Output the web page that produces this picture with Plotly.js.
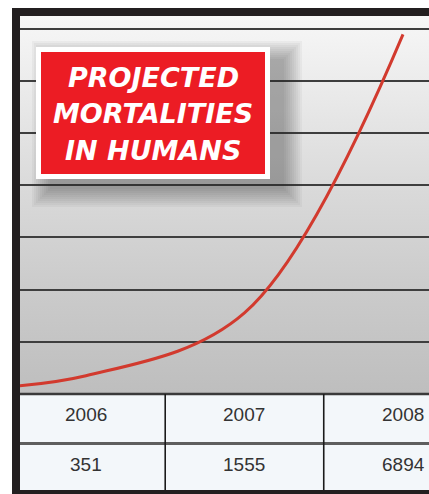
<!DOCTYPE html>
<html>
<head>
<meta charset="utf-8">
<script src="https://cdn.plot.ly/plotly-3.0.1.min.js"></script>
<style>
  html, body { margin: 0; padding: 0; background: #ffffff; }
  #chart { width: 429px; height: 494px; }
</style>
</head>
<body>
<div id="chart"></div>
<script>
// ---- data ----
const years = [2005, 2006, 2007, 2008];          // 2005 value estimated from the curve entering at the left edge
const deaths = [60, 351, 1555, 6894];
const tableYearPos = [2006, 2007, 2008];
const tableYears = ['2006', '2007', '2008'];
const tableValues = ['351', '1555', '6894'];
const titleLines = ['PROJECTED', 'MORTALITIES', 'IN HUMANS'];

// ---- layout geometry (pixels) ----
const W = 429, H = 494;
const mL = 20, mR = 0, mT = 16, mB = 100;
const plotW = W - mL - mR, plotH = H - mT - mB;
const px = x => (x - mL) / plotW;            // pixel x -> paper x
const py = y => (mT + plotH - y) / plotH;    // pixel y -> paper y
const xRange = [2005.584, 2008.164];
const xp = v => (v - xRange[0]) / (xRange[1] - xRange[0]); // data x -> paper x

const gradSvg =
  '<svg xmlns="http://www.w3.org/2000/svg" width="100" height="100" viewBox="0 0 100 100" preserveAspectRatio="none">' +
  '<defs><linearGradient id="g" x1="0" y1="0" x2="0" y2="1">' +
  '<stop offset="0" stop-color="#f7f7f7"/>' +
  '<stop offset="0.17" stop-color="#ececec"/>' +
  '<stop offset="0.45" stop-color="#dadada"/>' +
  '<stop offset="0.72" stop-color="#cbcbcb"/>' +
  '<stop offset="1" stop-color="#bebebe"/>' +
  '</linearGradient></defs><rect width="100" height="100" fill="url(#g)"/></svg>';

const shapes = [];

// table background
shapes.push({type: 'rect', xref: 'paper', yref: 'paper', x0: 0, x1: 1, y0: py(490), y1: py(394),
  fillcolor: '#f3f7fa', line: {width: 0}, layer: 'below'});

// box shadow (stacked translucent rects)
for (let i = 0; i < 10; i++) {
  const g = i * 2;
  shapes.push({type: 'rect', xref: 'paper', yref: 'paper',
    x0: px(36 + 14 - g), x1: px(270 + 14 + g), y0: py(179 + 10 + g), y1: py(47 + 12 - g),
    fillcolor: 'rgba(40,40,40,0.045)', line: {width: 0}});
}
// white frame and red box
shapes.push({type: 'rect', xref: 'paper', yref: 'paper', x0: px(36), x1: px(270), y0: py(179), y1: py(47),
  fillcolor: '#ffffff', line: {width: 0}});
shapes.push({type: 'rect', xref: 'paper', yref: 'paper', x0: px(41), x1: px(265), y0: py(174), y1: py(52),
  fillcolor: '#ec1c24', line: {width: 0}});

// table lines
shapes.push({type: 'line', xref: 'paper', yref: 'paper', x0: 0, x1: 1, y0: py(394), y1: py(394),
  line: {color: '#3a3a3a', width: 2.5}});
shapes.push({type: 'line', xref: 'paper', yref: 'paper', x0: 0, x1: 1, y0: py(443.5), y1: py(443.5),
  line: {color: '#5e5e5e', width: 3}});
for (let i = 0; i < tableYearPos.length - 1; i++) {
  const xd = xp((tableYearPos[i] + tableYearPos[i + 1]) / 2);
  shapes.push({type: 'line', xref: 'paper', yref: 'paper', x0: xd, x1: xd, y0: py(490), y1: py(394),
    line: {color: '#1a1a1a', width: 1.6}});
}

// black frame
shapes.push({type: 'rect', xref: 'paper', yref: 'paper', x0: px(12), x1: px(20), y0: py(494), y1: py(8),
  fillcolor: '#231f20', line: {width: 0}});
shapes.push({type: 'rect', xref: 'paper', yref: 'paper', x0: px(12), x1: px(429), y0: py(16), y1: py(8),
  fillcolor: '#231f20', line: {width: 0}});
shapes.push({type: 'rect', xref: 'paper', yref: 'paper', x0: px(12), x1: px(429), y0: py(494), y1: py(490),
  fillcolor: '#231f20', line: {width: 0}});

const annotations = [];
const titleFont = {family: '"DejaVu Sans", sans-serif', size: 27, color: '#ffffff', weight: 'bold', style: 'italic'};
const titleCenters = [77, 113.5, 150];
titleLines.forEach((t, i) => {
  annotations.push({
    text: t, showarrow: false, xref: 'paper', yref: 'paper',
    x: px(153), y: py(titleCenters[i]), xanchor: 'center', yanchor: 'middle', align: 'center',
    font: titleFont
  });
});
const tableFont = {family: '"Liberation Sans", Arial, sans-serif', size: 19, color: '#333333'};
tableYearPos.forEach((yr, i) => {
  annotations.push({text: tableYears[i], showarrow: false, xref: 'x', yref: 'paper',
    x: yr, y: py(414), xanchor: 'center', yanchor: 'middle', font: tableFont});
  annotations.push({text: tableValues[i], showarrow: false, xref: 'x', yref: 'paper',
    x: yr, y: py(464), xanchor: 'center', yanchor: 'middle', font: tableFont});
});

const trace = {
  x: years, y: deaths, type: 'scatter', mode: 'lines',
  line: {color: '#d23a2e', width: 3, shape: 'spline', smoothing: 1},
  hoverinfo: 'skip'
};

const layout = {
  width: W, height: H,
  margin: {l: mL, r: mR, t: mT, b: mB, pad: 0},
  paper_bgcolor: '#ffffff',
  plot_bgcolor: 'rgba(0,0,0,0)',
  showlegend: false,
  xaxis: {range: xRange, showgrid: false, zeroline: false, showticklabels: false, showline: false, ticks: '', fixedrange: true},
  yaxis: {range: [0, 7245], dtick: 1000, tick0: 0, showgrid: true, gridcolor: '#3e3e3e', gridwidth: 2,
    zeroline: false, showticklabels: false, showline: false, ticks: '', fixedrange: true},
  images: [{
    source: 'data:image/svg+xml;charset=utf-8,' + encodeURIComponent(gradSvg),
    xref: 'paper', yref: 'paper', x: 0, y: 1, sizex: 1, sizey: 1,
    xanchor: 'left', yanchor: 'top', sizing: 'stretch', layer: 'below'
  }],
  shapes: shapes,
  annotations: annotations
};

Plotly.newPlot('chart', [trace], layout, {displayModeBar: false, staticPlot: true});
</script>
</body>
</html>
